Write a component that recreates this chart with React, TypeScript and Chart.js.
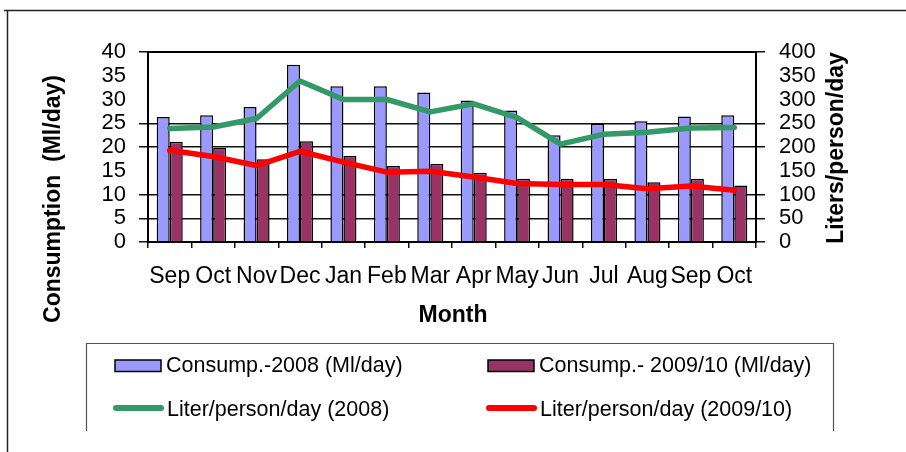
import { useEffect, useRef } from "react";
import { Chart, registerables } from "chart.js";

Chart.register(...registerables);

// Monthly water consumption, Sep 2008 – Oct 2009/10
const months = ["Sep", "Oct", "Nov", "Dec", "Jan", "Feb", "Mar", "Apr", "May", "Jun", "Jul", "Aug", "Sep", "Oct"];
const consumption2008 = [26.3, 26.7, 28.4, 37.3, 32.8, 32.8, 31.5, 29.8, 27.7, 22.5, 24.9, 25.4, 26.4, 26.7];
const consumption0910 = [21.1, 19.8, 17.4, 21.2, 18.1, 16.0, 16.4, 14.6, 13.3, 13.3, 13.3, 12.6, 13.3, 11.9];
const perCapita2008 = [239, 242, 260, 339, 300, 300, 274, 291, 262, 206, 227, 231, 240, 241];
const perCapita0910 = [193, 180, 161, 191, 168, 147, 149, 137, 123, 121, 121, 112, 118, 109];

const seriesLabels = [
  "Consump.-2008 (Ml/day)",
  "Consump.- 2009/10 (Ml/day)",
  "Liter/person/day (2008)",
  "Liter/person/day (2009/10)",
];
const leftAxisTitle = "Consumption  (Ml/day)";
const rightAxisTitle = "Liters/person/day";
const xAxisTitle = "Month";

const FONT = "'Liberation Sans', Arial, Helvetica, sans-serif";
const BLUE = "#9999FF";
const MAROON = "#993366";
const GREEN = "#339966";
const RED = "#FF0000";

// tick positions (by index) whose grid line / tick mark is drawn
const markedSteps = [0, 1, 2, 4, 5, 8];
const markColor = (ctx: any) => (markedSteps.includes(ctx.index) ? "#111" : "rgba(0,0,0,0)");

const decor = {
  id: "decor",
  afterDatasetsDraw(chart: any) {
    const { ctx, chartArea: a } = chart;
    ctx.save();
    ctx.strokeStyle = "#000";
    ctx.lineWidth = 2;
    ctx.strokeRect(a.left, a.top, a.right - a.left, a.bottom - a.top);
    ctx.restore();
  },
  afterDraw(chart: any) {
    const { ctx } = chart;
    ctx.save();

    // outer figure frame (top and left edges)
    ctx.strokeStyle = "#222";
    ctx.lineWidth = 1.5;
    ctx.beginPath();
    ctx.moveTo(4, 10.5);
    ctx.lineTo(906, 10.5);
    ctx.moveTo(7.5, 10);
    ctx.lineTo(7.5, 452);
    ctx.stroke();

    // axis titles
    ctx.fillStyle = "#000";
    ctx.font = `bold 23px ${FONT}`;
    ctx.textAlign = "center";
    ctx.textBaseline = "alphabetic";
    ctx.save();
    ctx.translate(60, 199);
    ctx.rotate(-Math.PI / 2);
    ctx.fillText(leftAxisTitle, 0, 0);
    ctx.restore();
    ctx.save();
    ctx.translate(843, 148);
    ctx.rotate(-Math.PI / 2);
    ctx.fillText(rightAxisTitle, 0, 0);
    ctx.restore();
    ctx.fillText(xAxisTitle, 453, 322);

    // legend box (bottom edge runs off the figure)
    ctx.strokeStyle = "#555";
    ctx.lineWidth = 1.2;
    ctx.beginPath();
    ctx.moveTo(86.5, 431);
    ctx.lineTo(86.5, 343.5);
    ctx.lineTo(833.5, 343.5);
    ctx.lineTo(833.5, 431);
    ctx.stroke();

    const ds = chart.data.datasets;
    const cols = [115, 488];
    ctx.font = `21.5px ${FONT}`;
    ctx.textAlign = "left";
    ctx.textBaseline = "middle";
    // bar swatches
    [ds[0], ds[1]].forEach((d: any, i: number) => {
      const x = cols[i];
      ctx.fillStyle = d.backgroundColor;
      ctx.fillRect(x, 360, 46, 11.5);
      ctx.strokeStyle = "#000";
      ctx.lineWidth = 1.5;
      ctx.strokeRect(x, 360, 46, 11.5);
      ctx.fillStyle = "#000";
      ctx.fillText(d.label, x + 51, 366);
    });
    // line swatches
    [ds[2], ds[3]].forEach((d: any, i: number) => {
      const x = cols[i];
      ctx.strokeStyle = d.borderColor;
      ctx.lineWidth = 6;
      ctx.lineCap = "round";
      ctx.beginPath();
      ctx.moveTo(x + 1, 408);
      ctx.lineTo(x + 46, 408);
      ctx.stroke();
      ctx.fillStyle = "#000";
      ctx.fillText(d.label, x + 52, 410);
    });

    ctx.restore();
  },
};

export default function App() {
  const canvasRef = useRef<HTMLCanvasElement | null>(null);

  useEffect(() => {
    const canvas = canvasRef.current;
    if (!canvas) return;
    const chart = new Chart(canvas, {
      type: "bar",
      data: {
        labels: months,
        datasets: [
          {
            type: "bar",
            label: seriesLabels[0],
            data: consumption2008,
            backgroundColor: BLUE,
            borderColor: "#000",
            borderWidth: 1.5,
            yAxisID: "y",
            order: 1,
            categoryPercentage: 0.6,
            barPercentage: 1,
          },
          {
            type: "bar",
            label: seriesLabels[1],
            data: consumption0910,
            backgroundColor: MAROON,
            borderColor: "#000",
            borderWidth: 1.5,
            yAxisID: "y",
            order: 1,
            categoryPercentage: 0.6,
            barPercentage: 1,
          },
          {
            type: "line",
            label: seriesLabels[2],
            data: perCapita2008,
            borderColor: GREEN,
            backgroundColor: GREEN,
            borderWidth: 5.5,
            pointRadius: 0,
            tension: 0,
            borderCapStyle: "round",
            borderJoinStyle: "round",
            yAxisID: "y1",
            order: 0,
          },
          {
            type: "line",
            label: seriesLabels[3],
            data: perCapita0910,
            borderColor: RED,
            backgroundColor: RED,
            borderWidth: 5.5,
            pointRadius: 0,
            tension: 0,
            borderCapStyle: "round",
            borderJoinStyle: "round",
            yAxisID: "y1",
            order: 0,
          },
        ] as any,
      },
      options: {
        responsive: false,
        animation: false,
        layout: { padding: { top: 52, left: 0, right: 0, bottom: 0 } },
        plugins: {
          legend: { display: false },
          tooltip: { enabled: false },
          title: { display: false },
        },
        scales: {
          x: {
            offset: true,
            border: { display: false },
            grid: {
              drawOnChartArea: false,
              drawTicks: true,
              tickLength: 6,
              tickColor: "#111",
              lineWidth: 1.5,
              offset: true,
            },
            ticks: {
              autoSkip: false,
              maxRotation: 0,
              minRotation: 0,
              padding: 15,
              color: "#000",
              font: { family: FONT, size: 23 },
            },
            afterFit: (s: any) => {
              s.height = 210;
            },
          },
          y: {
            position: "left",
            min: 0,
            max: 40,
            border: { display: false },
            grid: {
              color: markColor,
              tickColor: markColor,
              lineWidth: 1.5,
              tickLength: 9,
            },
            ticks: {
              stepSize: 5,
              autoSkip: false,
              padding: 13,
              color: "#000",
              font: { family: FONT, size: 22, lineHeight: 1 },
            },
            afterFit: (s: any) => {
              s.width = 148;
            },
          },
          y1: {
            position: "right",
            min: 0,
            max: 400,
            border: { display: false },
            grid: {
              drawOnChartArea: false,
              color: markColor,
              tickColor: markColor,
              lineWidth: 1.5,
              tickLength: 9,
            },
            ticks: {
              stepSize: 50,
              autoSkip: false,
              padding: 14,
              color: "#000",
              font: { family: FONT, size: 22, lineHeight: 1 },
            },
            afterFit: (s: any) => {
              s.width = 150;
            },
          },
        },
      } as any,
      plugins: [decor],
    });
    return () => chart.destroy();
  }, []);

  return (
    <div style={{ position: "absolute", left: 0, top: 0, width: 906, height: 452, background: "#fff" }}>
      <canvas ref={canvasRef} width={906} height={452} style={{ display: "block" }} />
    </div>
  );
}
